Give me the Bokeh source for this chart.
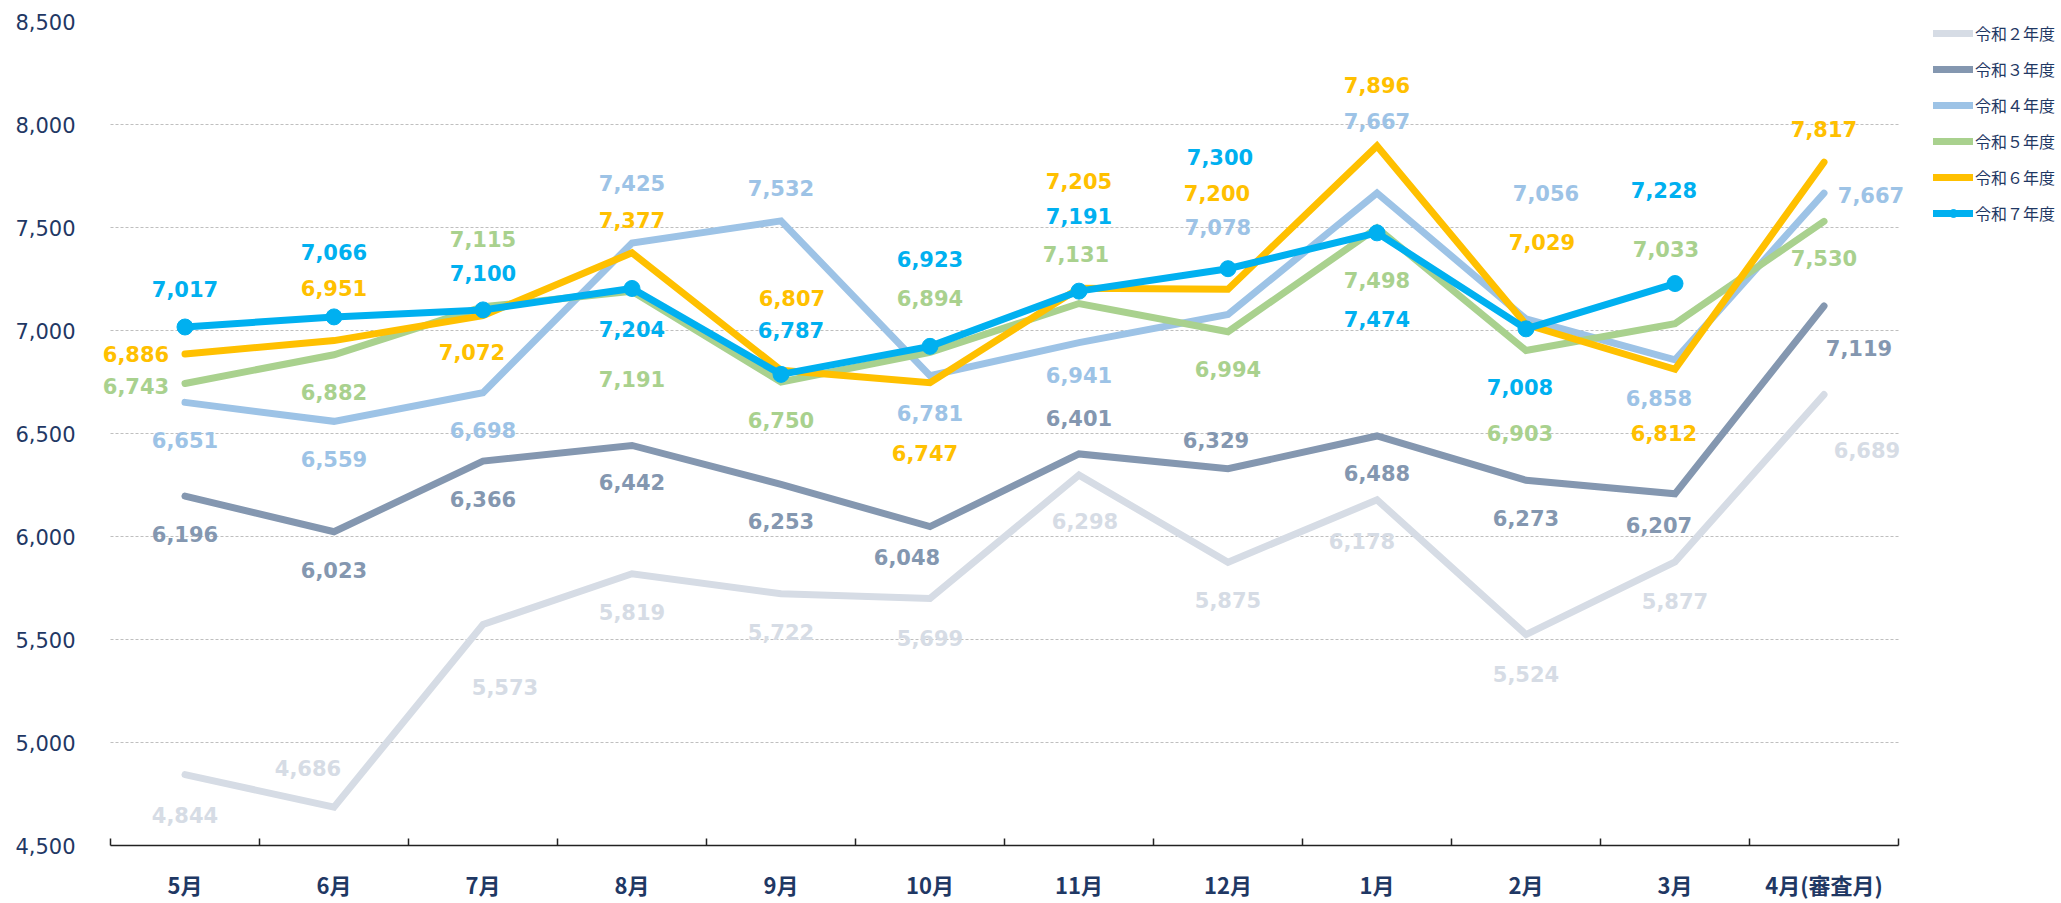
import numpy as np
from bokeh.plotting import figure
from bokeh.models import (Range1d, FixedTicker, NumeralTickFormatter, Legend, LegendItem,
                          ColumnDataSource, LabelSet)
from bokeh.core.properties import value
from bokeh.embed import file_html
from bokeh.resources import INLINE

# ---------------- data ----------------
months = ["5月", "6月", "7月", "8月", "9月", "10月", "11月", "12月", "1月", "2月", "3月", "4月(審査月)"]
series_names = ["令和２年度", "令和３年度", "令和４年度", "令和５年度", "令和６年度", "令和７年度"]
r2 = [4844, 4686, 5573, 5819, 5722, 5699, 6298, 5875, 6178, 5524, 5877, 6689]
r3 = [6196, 6023, 6366, 6442, 6253, 6048, 6401, 6329, 6488, 6273, 6207, 7119]
r4 = [6651, 6559, 6698, 7425, 7532, 6781, 6941, 7078, 7667, 7056, 6858, 7667]
r5 = [6743, 6882, 7115, 7191, 6750, 6894, 7131, 6994, 7498, 6903, 7033, 7530]
r6 = [6886, 6951, 7072, 7377, 6807, 6747, 7205, 7200, 7896, 7029, 6812, 7817]
r7 = [7017, 7066, 7100, 7204, 6787, 6923, 7191, 7300, 7474, 7008, 7228, None]
y_ticks = [4500, 5000, 5500, 6000, 6500, 7000, 7500, 8000, 8500]

# ---------------- styling / layout ----------------
colors = ["#D6DCE5", "#8497B0", "#9DC3E6", "#A9D18E", "#FFC000", "#00B0F0"]
navy = "#1F3864"
# data-label offsets in screen px (dx, dy; +dy = below the point)
label_offsets = [
    [(0, 40), (-26, -39), (22, 63), (0, 38), (0, 38), (0, 39), (6, 46), (0, 38), (-15, 41), (0, 39), (0, 39), (43, 55)],
    [(0, 38), (0, 38), (0, 38), (0, 37), (0, 37), (-23, 30), (0, -36), (-12, -29), (0, 37), (0, 38), (-16, 31), (35, 42)],
    [(0, 38), (0, 38), (0, 37), (0, -60), (0, -33), (0, 37), (0, 32), (-10, -87), (0, -72), (20, -126), (-16, 38), (47, 2)],
    [(-49, 3), (0, 37), (0, -68), (0, 88), (0, 38), (0, -54), (-3, -50), (0, 37), (0, 52), (-6, 83), (-9, -75), (0, 37)],
    [(-49, 0), (0, -53), (-11, 36), (0, -33), (11, -72), (-5, 70), (0, -107), (-11, -96), (0, -61), (16, -83), (-11, 64), (0, -33)],
    [(0, -38), (0, -65), (0, -37), (0, 41), (10, -44), (0, -87), (0, -75), (-8, -112), (0, 86), (-6, 58), (-11, -94)],
]

n = len(months)
centers = list(np.arange(n) + 0.5)

# frame spans x-pixels 90..2061; category area is 110..1898 (149 px per category)
FRAME_L, AREA_L, AREA_R, CANVAS_W = 90, 110, 1898, 2061
px = (AREA_R - AREA_L) / n
x_start = -(AREA_L - FRAME_L) / px
x_end = n + (CANVAS_W - AREA_R) / px

p = figure(width=CANVAS_W, height=903, x_range=Range1d(x_start, x_end), y_range=Range1d(4500, 8500),
           output_backend="svg", toolbar_location=None,
           min_border_left=FRAME_L, min_border_top=21, min_border_bottom=58, min_border_right=0)
p.outline_line_color = None
p.background_fill_color = "white"
p.border_fill_color = "white"

# y axis
p.yaxis.ticker = FixedTicker(ticks=y_ticks)
p.yaxis.formatter = NumeralTickFormatter(format="0,0")
p.yaxis.axis_line_color = None
p.yaxis.major_tick_line_color = None
p.yaxis.minor_tick_line_color = None
p.yaxis.major_label_text_font = "DejaVu Sans"
p.yaxis.major_label_text_font_size = "21px"
p.yaxis.major_label_text_color = navy
p.yaxis.major_label_standoff = 9

p.ygrid.ticker = FixedTicker(ticks=y_ticks[1:])
p.ygrid.cross_bounds = (0, n)
p.ygrid.grid_line_color = "#BFBFBF"
p.ygrid.grid_line_dash = "3 2"
p.ygrid.grid_line_width = 1
p.xgrid.grid_line_color = None

# x axis: labels at category centres, ticks at category boundaries
xa = p.xaxis[0]
xa.bounds = (0, n)
xa.ticker = FixedTicker(ticks=centers, minor_ticks=list(range(n + 1)))
xa.major_label_overrides = {c: m for c, m in zip(centers, months)}
xa.major_tick_line_color = None
xa.minor_tick_in = 7
xa.minor_tick_out = 0
xa.minor_tick_line_color = "#222222"
xa.minor_tick_line_width = 1.5
xa.axis_line_color = "#222222"
xa.axis_line_width = 1.5
xa.major_label_text_font = "Noto Sans CJK JP"
xa.major_label_text_font_style = "bold"
xa.major_label_text_font_size = "22px"
xa.major_label_text_color = navy
xa.major_label_standoff = 16

all_series = [r2, r3, r4, r5, r6, r7]
legend_items = []
for i, vals in enumerate(all_series):
    xs = [c for c, v in zip(centers, vals) if v is not None]
    ys = [v for v in vals if v is not None]
    src = ColumnDataSource(dict(x=xs, y=ys))
    ln = p.line("x", "y", source=src, line_color=colors[i], line_width=7,
                line_join="miter", line_cap="round")
    rends = [ln]
    if i == 5:
        sc = p.scatter("x", "y", source=src, size=16, color=colors[i])
        rends.append(sc)
    legend_items.append(LegendItem(label=series_names[i], renderers=rends))

for i, vals in enumerate(all_series):
    xs = [c for c, v in zip(centers, vals) if v is not None]
    ys = [v for v in vals if v is not None]
    offs = label_offsets[i][:len(ys)]
    src = ColumnDataSource(dict(x=xs, y=ys, t=[f"{v:,}" for v in ys],
                                dx=[o[0] for o in offs], dy=[-o[1] for o in offs]))
    labels = LabelSet(x="x", y="y", text="t", source=src, x_offset="dx", y_offset="dy",
                      text_color=colors[i], text_font=value("DejaVu Sans"), text_font_style="bold",
                      text_font_size="21px", text_align="center", text_baseline="middle")
    p.add_layout(labels)

legend = Legend(items=legend_items, location=(1933 - FRAME_L, 620), orientation="vertical",
                glyph_width=40, glyph_height=20, label_height=20, spacing=12, label_standoff=2,
                padding=0, margin=0, border_line_color=None, background_fill_alpha=0,
                label_text_font="Noto Sans CJK JP", label_text_font_size="16px",
                label_text_color=navy)
p.add_layout(legend, "center")

open("out.html", "w").write(file_html(p, INLINE))
